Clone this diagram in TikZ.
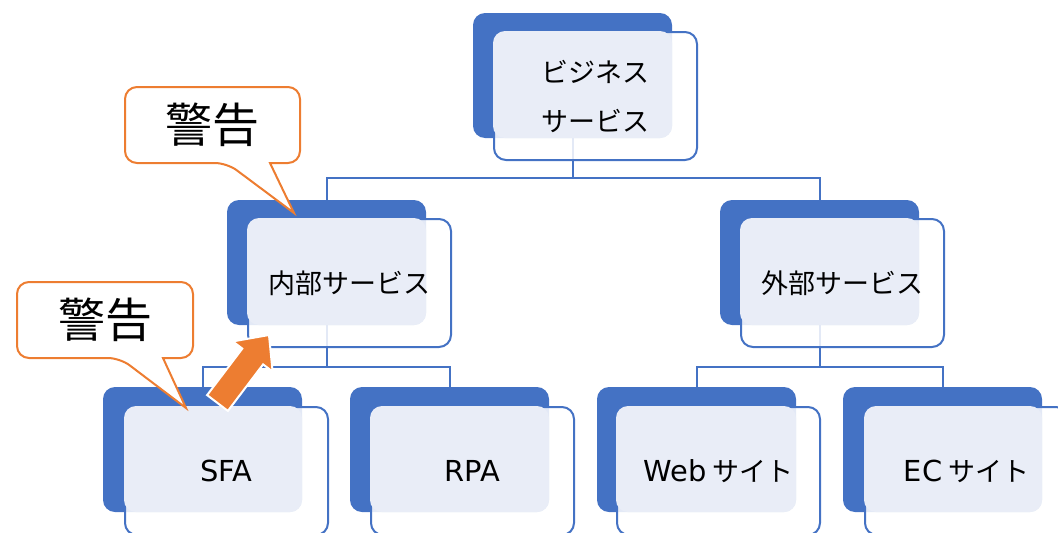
\documentclass[tikz,border=0pt]{standalone}
\usepackage{fontspec}
\setmainfont{Noto Sans CJK JP}
\newfontfamily\latinfont[Scale=1.07]{DejaVu Sans}
\usepackage{tikz}
\definecolor{orgblue}{HTML}{4472C4}
\definecolor{orglight}{HTML}{E9EDF7}
\definecolor{warnorange}{HTML}{ED7D31}

\begin{document}
\begin{tikzpicture}[x=1pt,y=-1pt,
  backbox/.style={fill=orgblue,rounded corners=12,minimum width=199,minimum height=125,inner sep=0,outer sep=0},
  frontbox/.style={draw=orgblue,line width=2,fill=white,fill opacity=.85,rounded corners=12,minimum width=203,minimum height=128,inner sep=0},
  lightarea/.style={fill=orglight,rounded corners=12},
  lbl/.style={inner sep=0,align=center,font=\fontsize{27}{49}\selectfont},
  conn/.style={draw=orgblue,line width=2},
  warntext/.style={inner sep=0,font=\fontsize{47}{56}\selectfont},
  warnline/.style={draw=warnorange,line width=2,fill=white},
  warnarrow/.style={fill=warnorange,draw=white,line width=2,line join=miter}]
\useasboundingbox (0,0) rectangle (1058,533);
\clip (0,0) rectangle (1058,533);
% back boxes
\node[backbox] (bizb) at (572.5,75.5) {};
\node[backbox] (intb) at (326.5,262.5) {};
\node[backbox] (extb) at (819.5,262.5) {};
\node[backbox] (sfab) at (202.5,449.5) {};
\node[backbox] (rpab) at (449.5,449.5) {};
\node[backbox] (webb) at (696.5,449.5) {};
\node[backbox] (ecb) at (942.5,449.5) {};
% connectors
\draw[conn] (bizb.south) -- ++(0,40) -| (intb.north);
\draw[conn] (bizb.south) -- ++(0,40) -| (extb.north);
\draw[conn] (intb.south) -- ++(0,42) -| (sfab.north);
\draw[conn] (intb.south) -- ++(0,42) -| (rpab.north);
\draw[conn] (extb.south) -- ++(0,42) -| (webb.north);
\draw[conn] (extb.south) -- ++(0,42) -| (ecb.north);
% front boxes
\node[frontbox] (bizf) at (595.5,96) {};
\node[frontbox] (intf) at (349.5,283) {};
\node[frontbox] (extf) at (842.5,283) {};
\node[frontbox] (sfaf) at (226.5,471) {};
\node[frontbox] (rpaf) at (472.5,471) {};
\node[frontbox] (webf) at (718.5,471) {};
\node[frontbox] (ecf) at (966.5,471) {};
\fill[lightarea] (bizf.north west) rectangle (bizb.south east);
\fill[lightarea] (intf.north west) rectangle (intb.south east);
\fill[lightarea] (extf.north west) rectangle (extb.south east);
\fill[lightarea] (sfaf.north west) rectangle (sfab.south east);
\fill[lightarea] (rpaf.north west) rectangle (rpab.south east);
\fill[lightarea] (webf.north west) rectangle (webb.south east);
\fill[lightarea] (ecf.north west) rectangle (ecb.south east);
% labels
\node[lbl] (biz) at (bizf) {ビジネス\\サービス};
\node[lbl] (int) at (intf) {内部サービス};
\node[lbl] (ext) at (extf) {外部サービス};
\node[lbl] (sfa) at (sfaf) {\latinfont SFA};
\node[lbl] (rpa) at (rpaf) {\latinfont RPA};
\node[lbl] (web) at (webf) {{\latinfont Web} サイト};
\node[lbl] (ec) at (ecf) {{\latinfont EC} サイト};
% callouts
\draw[warnline] (294,213) -- (270,163) [rounded corners=12] -| (300,87) -| (125,163) -- (227,163) [sharp corners] -- cycle;
\node[warntext] (warn1) at (212.5,125) {警告};
\draw[warnline] (186,408) -- (163,358) [rounded corners=12] -| (193,282) -| (17,358) -- (120,358) [sharp corners] -- cycle;
\node[warntext] (warn2) at (105,320) {警告};
% arrow
\filldraw[warnarrow] (207.1,395.1) -- (242.3,348.6) -- (232.8,341.4) -- (269,335) -- (272.6,371.6) -- (263.1,364.4) -- (227.9,410.9) -- cycle;
\end{tikzpicture}
\end{document}
